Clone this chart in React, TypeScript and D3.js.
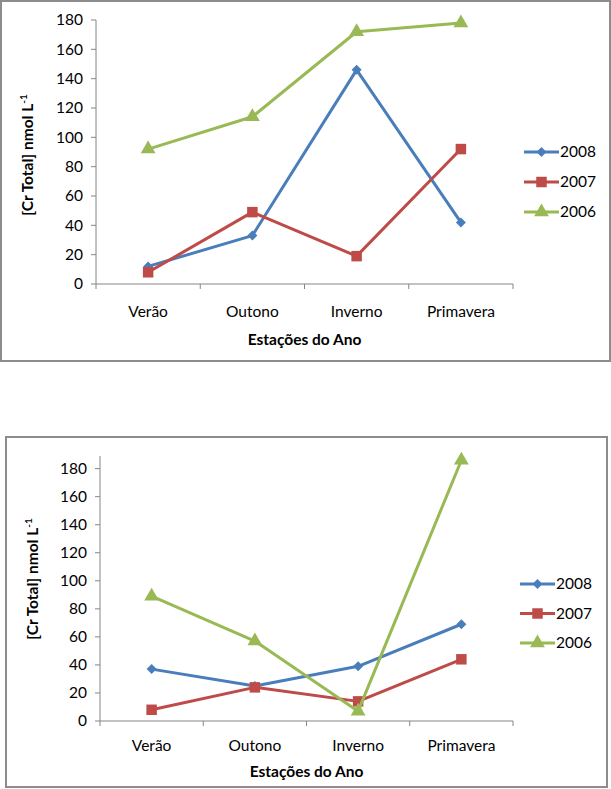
import React from 'react';
import * as d3 from 'd3';

const seasons = ['Verão', 'Outono', 'Inverno', 'Primavera'];
const years = ['2008', '2007', '2006'];
const yTicks = [0, 20, 40, 60, 80, 100, 120, 140, 160, 180];

// gráfico de cima
const top2008 = [12, 33, 146, 42];
const top2007 = [8, 49, 19, 92];
const top2006 = [92, 114, 172, 178];

// gráfico de baixo
const bottom2008 = [37, 25, 39, 69];
const bottom2007 = [8, 24, 14, 44];
const bottom2006 = [89, 57, 7, 186];

const colors = ['#4A7EBB', '#BE4B48', '#98B954'];
const markers = [d3.symbolSquare, d3.symbolSquare, d3.symbolTriangle];
const markerSizes = [50, 110, 95];
const markerRotate = [45, 0, 0];
const FONT = 'Lato, "Open Sans", sans-serif';
const FS = 15.5;

interface ChartProps {
  box: { x: number; y: number; w: number; h: number };
  plot: { left: number; right: number; top: number; bottom: number };
  yMax: number;
  series: number[][];
  yTitle: { x: number; y: number };
  xTitleY: number;
  catY: number;
  legend: { x: number; y: number; gap: number };
}

function Chart({ box, plot, yMax, series, yTitle, xTitleY, catY, legend }: ChartProps) {
  const x = d3.scaleBand().domain(seasons).range([plot.left, plot.right]);
  const y = d3.scaleLinear().domain([0, yMax]).range([plot.bottom, plot.top]);
  const line = d3.line<number>()
    .x((_, i) => (x(seasons[i]) as number) + x.bandwidth() / 2)
    .y(d => y(d));

  const boundaries = [...seasons.map(s => x(s) as number), plot.right];

  return (
    <g>
      <rect x={box.x} y={box.y} width={box.w} height={box.h} fill="#fff" stroke="#8c8c8c" strokeWidth={2} />
      {/* eixo y */}
      <line x1={plot.left} x2={plot.left} y1={y(yMax)} y2={plot.bottom} stroke="#868686" />
      {yTicks.map(t => (
        <g key={t}>
          <line x1={plot.left - 5} x2={plot.left} y1={y(t)} y2={y(t)} stroke="#868686" />
          <text x={plot.left - 13} y={y(t)} dy="0.35em" textAnchor="end" fontSize={FS} fill="#000" fontFamily={FONT}>{t}</text>
        </g>
      ))}
      {/* eixo x */}
      <line x1={plot.left} x2={plot.right} y1={plot.bottom} y2={plot.bottom} stroke="#868686" />
      {boundaries.map((b, i) => (
        <line key={i} x1={b} x2={b} y1={plot.bottom} y2={plot.bottom + 5} stroke="#868686" />
      ))}
      {seasons.map(s => (
        <text key={s} x={(x(s) as number) + x.bandwidth() / 2} y={catY} dy="0.35em" textAnchor="middle" fontSize={FS} fontFamily={FONT}>{s}</text>
      ))}
      <text x={(plot.left + plot.right) / 2} y={xTitleY} dy="0.35em" textAnchor="middle" fontSize={FS} fontWeight="bold" fontFamily={FONT}>Estações do Ano</text>
      <text transform={`translate(${yTitle.x},${yTitle.y}) rotate(-90)`} dy="0.35em" textAnchor="middle" fontSize={FS} fontWeight="bold" fontFamily={FONT}>
        [Cr Total] nmol L<tspan baselineShift="super" fontSize={10}>-1</tspan>
      </text>
      {/* séries */}
      {series.map((vals, si) => (
        <g key={si}>
          <path d={line(vals) ?? ''} fill="none" stroke={colors[si]} strokeWidth={3} strokeLinejoin="round" />
          {vals.map((v, i) => (
            <path key={i}
              d={d3.symbol().type(markers[si]).size(markerSizes[si])() ?? ''}
              transform={`translate(${(x(seasons[i]) as number) + x.bandwidth() / 2},${y(v)}) rotate(${markerRotate[si]})`}
              fill={colors[si]} />
          ))}
        </g>
      ))}
      {/* legenda */}
      {years.map((yr, i) => {
        const ly = legend.y + i * legend.gap;
        return (
          <g key={yr}>
            <line x1={legend.x} x2={legend.x + 35} y1={ly} y2={ly} stroke={colors[i]} strokeWidth={3} />
            <path d={d3.symbol().type(markers[i]).size(markerSizes[i])() ?? ''}
              transform={`translate(${legend.x + 17.5},${ly}) rotate(${markerRotate[i]})`} fill={colors[i]} />
            <text x={legend.x + 36} y={ly} dy="0.35em" fontSize={FS} fontFamily={FONT}>{yr}</text>
          </g>
        );
      })}
    </g>
  );
}

export default function App() {
  return (
    <svg width={611} height={789} style={{ position: 'absolute', left: 0, top: 0 }}>
      <rect width={611} height={789} fill="#fff" />
      <Chart
        box={{ x: 1, y: 1, w: 609, h: 360 }}
        plot={{ left: 96, right: 513, top: 20, bottom: 284 }}
        yMax={180}
        series={[top2008, top2007, top2006]}
        yTitle={{ x: 28, y: 155 }}
        xTitleY={340}
        catY={312}
        legend={{ x: 524, y: 152, gap: 30 }}
      />
      <Chart
        box={{ x: 6, y: 437, w: 601, h: 350 }}
        plot={{ left: 100, right: 513, top: 456, bottom: 721 }}
        yMax={189}
        series={[bottom2008, bottom2007, bottom2006]}
        yTitle={{ x: 33, y: 579 }}
        xTitleY={772}
        catY={746}
        legend={{ x: 520, y: 584, gap: 29.5 }}
      />
    </svg>
  );
}
